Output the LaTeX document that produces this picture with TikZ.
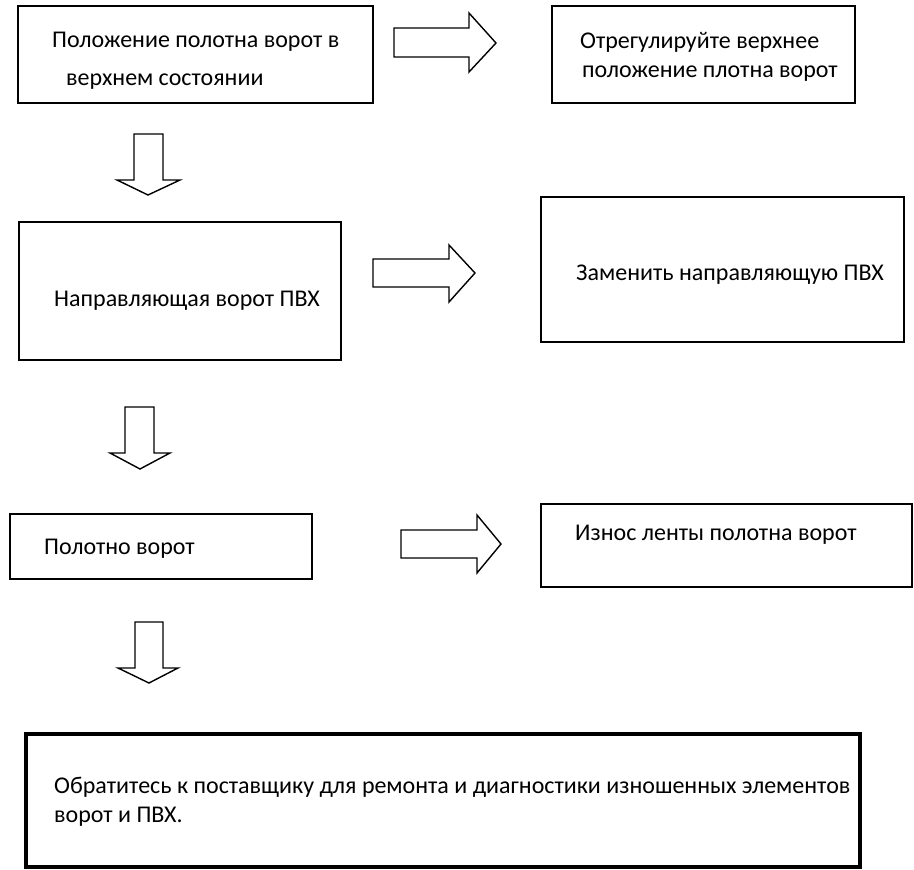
\documentclass[tikz,border=0pt]{standalone}
\usepackage{fontspec}
\setmainfont{Carlito}
\begin{document}
\begin{tikzpicture}[x=1pt,y=-1pt,
  box/.style={draw=black,line width=1.5pt,fill=none},
  txt/.style={anchor=base west,inner sep=0pt,font=\fontsize{24}{28}\selectfont},
  barrow/.style={draw=black,line width=1.4pt,fill=white,line join=miter}]
\useasboundingbox (0,0) rectangle (914,870);
% boxes
\draw[box] (18,6) rectangle (373,103) coordinate (b1);
\draw[box] (552,6) rectangle (855,103) coordinate (b2);
\draw[box] (19,222) rectangle (341,360) coordinate (b3);
\draw[box] (541,197) rectangle (904,342) coordinate (b4);
\draw[box] (10,514) rectangle (312,579) coordinate (b5);
\draw[box,line width=2.5pt] (541,504) rectangle (912,587) coordinate (b6);
\draw[box,line width=4.5pt] (26,734) rectangle (860,867) coordinate (b7);
% texts
\node[txt] (t1a) at (52,47) {Положение полотна ворот в};
\node[txt] (t1b) at (66,85) {верхнем состоянии};
\node[txt] (t2a) at (580,48) {Отрегулируйте верхнее};
\node[txt] (t2b) at (582,77) {положение плотна ворот};
\node[txt] (t3) at (54,306) {Направляющая ворот ПВХ};
\node[txt] (t4) at (576,280) {Заменить направляющую ПВХ};
\node[txt] (t5) at (44,554) {Полотно ворот};
\node[txt] (t6) at (575,540) {Износ ленты полотна ворот};
\node[txt] (t7a) at (54,793) {Обратитесь к поставщику для ремонта и диагностики изношенных элементов};
\node[txt] (t7b) at (54,822) {ворот и ПВХ.};
% right block arrows
\draw[barrow] (394,28) -- (469,28) -- (469,13) -- (496,43) -- (469,72) -- (469,57) -- (394,57) -- cycle;
\draw[barrow] (373,259) -- (449,259) -- (449,245) -- (475,273) -- (449,302) -- (449,287) -- (373,287) -- cycle;
\draw[barrow] (401,530) -- (477,530) -- (477,515) -- (501,544) -- (477,573) -- (477,558) -- (401,558) -- cycle;
% down block arrows
\draw[barrow] (134,134) -- (163,134) -- (163,180) -- (180,180) -- (148,195) -- (117,180) -- (134,180) -- cycle;
\draw[barrow] (125,407) -- (154,407) -- (154,453) -- (170,453) -- (140,469) -- (110,453) -- (125,453) -- cycle;
\draw[barrow] (135,622) -- (163,622) -- (163,668) -- (178,668) -- (149,683) -- (118,668) -- (135,668) -- cycle;
\end{tikzpicture}
\end{document}
